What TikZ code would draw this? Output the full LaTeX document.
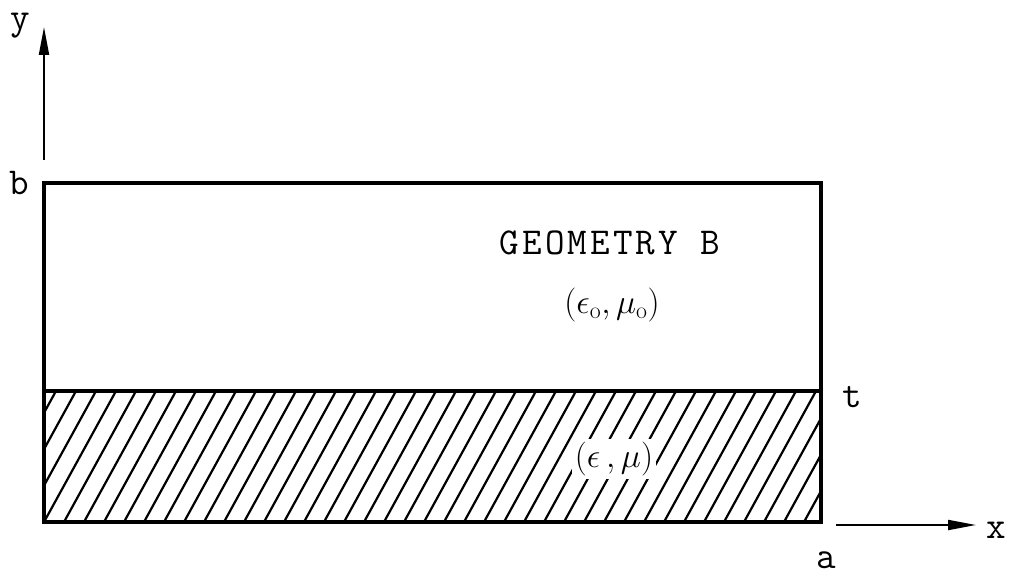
\RequirePackage{fix-cm}
\documentclass[tikz,border=0pt]{standalone}
\usepackage{fontspec}
\newfontfamily\cour[LetterSpace=8]{Latin Modern Mono}
\usetikzlibrary{arrows.meta}
\tikzset{
  lab/.style={font=\cour\fontsize{38}{44}\selectfont, inner sep=0pt},
  greek/.style={font=\fontsize{34}{40}\selectfont, inner sep=0pt},
  wall/.style={line width=4pt},
  axis/.style={line width=2pt, -{Triangle[length=28pt,width=10pt]}},
  hatch/.style={line width=2.2pt}
}
\begin{document}
\begin{tikzpicture}[x=1pt,y=-1pt]
\useasboundingbox (0,0) rectangle (1013,578);
% coordinates
\coordinate (bl) at (44,522);
\coordinate (br) at (821,522);
\coordinate (tl) at (44,183);
\coordinate (tr) at (821,183);
\coordinate (ml) at (44,391);
\coordinate (mr) at (821,391);
% hatching
\begin{scope}
\clip (ml) rectangle (br);
\foreach \x in {-36,-16,...,830} {
  \draw[hatch] (\x,522) -- ++(72,-131);
}
\end{scope}
\node[greek, fill=white, inner sep=3pt] (em) at (614,459) {$(\epsilon\,,\mu)$};
% rectangle
\draw[wall] (tl) rectangle (br);
\draw[wall] (ml) -- (mr);
% axes
\coordinate (ys) at (44,160);
\coordinate (ye) at (44,27);
\draw[axis] (ys) -- (ye);
\coordinate (xs) at (836,525);
\coordinate (xe) at (976,525);
\draw[axis] (xs) -- (xe);
% labels
\node[lab, anchor=base] (ly) at (20,30) {y};
\node[lab] (lb) at (19,183) {b};
\node[lab] (lt) at (852,397) {t};
\node[lab] (la) at (826,560) {a};
\node[lab] (lx) at (996,530) {x};
\node[lab] (geo) at (610,243) {GEOMETRY B};
\node[greek] (eo) at (612,305) {$(\epsilon_{\mathrm{o}},\mu_{\mathrm{o}})$};
\end{tikzpicture}
\end{document}
